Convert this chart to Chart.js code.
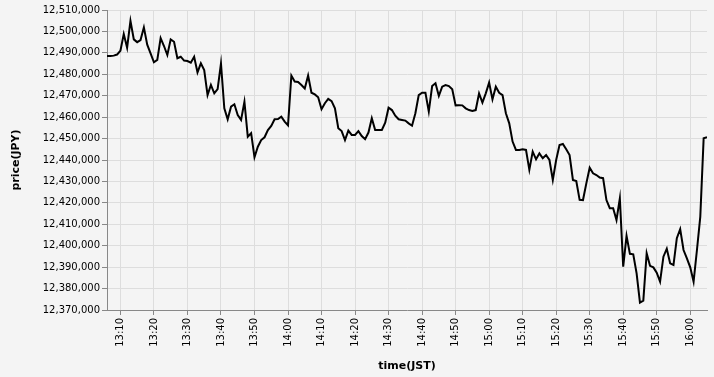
<!DOCTYPE html>
<html>
<head>
<meta charset="utf-8">
<script src="https://cdn.jsdelivr.net/npm/chart.js@4"></script>
<style>
  html, body { margin: 0; padding: 0; background: #f4f4f4; }
  #priceChart { display: block; }
</style>
</head>
<body>
<canvas id="priceChart" width="714" height="377"></canvas>
<script>
// one price per minute, first point at 13:06 JST
const startTime = '13:06';
const prices = [
  12488500, 12488500, 12488700, 12489200,                                                       // 13:06
  12491000, 12498800, 12492400, 12504900, 12496300, 12495000, 12496000, 12501900, 12493800, 12489800, // 13:10
  12485600, 12486700, 12496900, 12493200, 12489000, 12496300, 12495200, 12487500, 12488200, 12486400, // 13:20
  12486200, 12485400, 12488200, 12480900, 12485100, 12482000, 12470300, 12475000, 12471100, 12473100, // 13:30
  12485000, 12464100, 12459000, 12464900, 12466000, 12461000, 12458700, 12467200, 12450900, 12452500, // 13:40
  12441300, 12446200, 12449300, 12450600, 12454000, 12455900, 12459000, 12459100, 12460200, 12457900, // 13:50
  12456200, 12479400, 12476600, 12476400, 12475000, 12473400, 12479400, 12471400, 12470600, 12469300, // 14:00
  12463700, 12466500, 12468500, 12467500, 12464100, 12454800, 12453500, 12449300, 12453700, 12451700, // 14:10
  12451700, 12453500, 12451200, 12449700, 12452800, 12459500, 12454000, 12454000, 12454000, 12457400, // 14:20
  12464400, 12463300, 12460700, 12459000, 12458700, 12458400, 12457100, 12456000, 12461800, 12470300, // 14:30
  12471400, 12471400, 12462600, 12474500, 12475800, 12469900, 12474200, 12475000, 12474500, 12473000, // 14:40
  12465500, 12465600, 12465500, 12464100, 12463300, 12462900, 12463300, 12471100, 12466800, 12471100, // 14:50
  12476100, 12468300, 12474200, 12471400, 12470300, 12461800, 12457100, 12448600, 12444700, 12444700, // 15:00
  12445000, 12444700, 12435400, 12443900, 12440300, 12443100, 12440800, 12442300, 12440000, 12430700, // 15:10
  12440000, 12447000, 12447500, 12445000, 12442300, 12430700, 12430200, 12421400, 12421300, 12429100, // 15:20
  12436400, 12433800, 12433000, 12431800, 12431500, 12421300, 12417500, 12417500, 12412000, 12422100, // 15:30
  12390200, 12404600, 12396200, 12396000, 12387100, 12373500, 12374400, 12396500, 12390600, 12389900, // 15:40
  12387400, 12383200, 12394900, 12398600, 12391800, 12391000, 12403500, 12407700, 12398000, 12394100, // 15:50
  12389900, 12383200, 12398000, 12413600, 12450100, 12450600                                    // 16:00
];

const timeTicks = ['13:10', '13:20', '13:30', '13:40', '13:50', '14:00', '14:10', '14:20', '14:30',
  '14:40', '14:50', '15:00', '15:10', '15:20', '15:30', '15:40', '15:50', '16:00'];

const yMin = 12370000;
const yMax = 12510000;
const yStep = 10000;

function toMinutes(hhmm) {
  const [h, m] = hhmm.split(':').map(Number);
  return h * 60 + m;
}

function toHHMM(mins) {
  const h = Math.floor(mins / 60);
  const m = mins % 60;
  return h + ':' + String(m).padStart(2, '0');
}

const startMin = toMinutes(startTime);
const points = prices.map((p, i) => ({ x: startMin + i, y: p }));

const FONT = 'DejaVu Sans';

new Chart(document.getElementById('priceChart'), {
  type: 'line',
  data: {
    datasets: [{
      data: points,
      borderColor: '#000',
      borderWidth: 2,
      pointRadius: 0,
      tension: 0,
      fill: false
    }]
  },
  options: {
    responsive: false,
    animation: false,
    devicePixelRatio: 1,
    layout: { padding: { top: 10, right: 7, left: 0, bottom: 0 } },
    plugins: {
      legend: { display: false },
      tooltip: { enabled: false }
    },
    scales: {
      x: {
        type: 'linear',
        min: startMin,
        max: startMin + prices.length - 1,
        afterBuildTicks: (scale) => {
          scale.ticks = timeTicks.map(t => ({ value: toMinutes(t) }));
        },
        afterFit: (scale) => { scale.height = 67; },
        grid: { color: '#dddddd', tickColor: '#888888', tickLength: 5 },
        border: { color: '#888888' },
        ticks: {
          autoSkip: false,
          minRotation: 90,
          maxRotation: 90,
          padding: 3,
          color: '#000',
          font: { family: FONT, size: 10 },
          callback: (v) => toHHMM(v)
        },
        title: {
          display: true,
          text: 'time(JST)',
          color: '#000',
          padding: { top: 0, bottom: 4 },
          font: { family: FONT, size: 11, weight: 'bold' }
        }
      },
      y: {
        min: yMin,
        max: yMax,
        afterFit: (scale) => { scale.width = 107; },
        grid: { color: '#dddddd', tickColor: '#888888', tickLength: 5 },
        border: { color: '#888888' },
        ticks: {
          stepSize: yStep,
          padding: 2,
          color: '#000',
          font: { family: FONT, size: 10 },
          callback: (v) => v.toLocaleString('en-US')
        },
        title: {
          display: true,
          text: 'price(JPY)',
          color: '#000',
          padding: { top: 10, bottom: 0 },
          font: { family: FONT, size: 11, weight: 'bold' }
        }
      }
    }
  }
});
</script>
</body>
</html>
